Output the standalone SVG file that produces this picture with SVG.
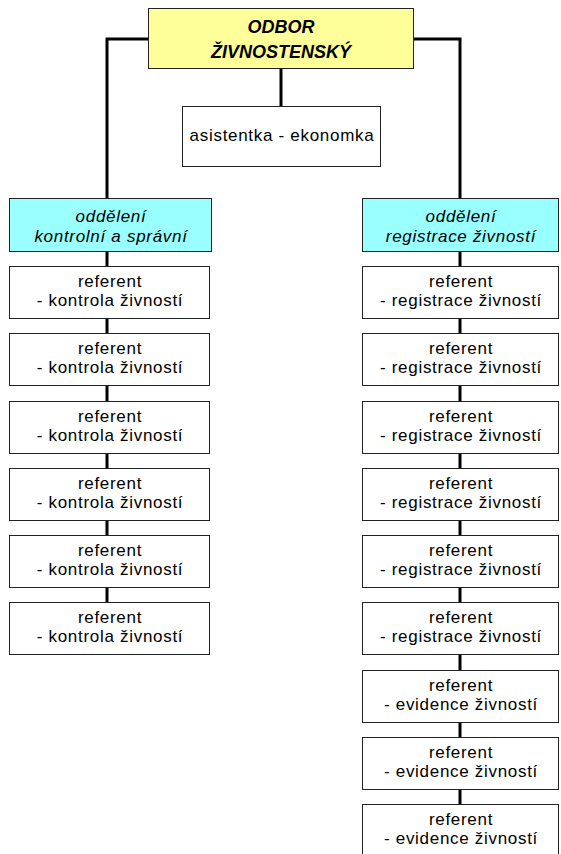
<svg xmlns="http://www.w3.org/2000/svg" width="561" height="854" viewBox="0 0 561 854">
<style>
.box{fill:#fff;stroke:#222;stroke-width:1}
.top{fill:#ffff99;stroke:#222;stroke-width:1}
.dept{fill:#99ffff;stroke:#222;stroke-width:1}
.t{font-family:"Liberation Sans",Arial,sans-serif;font-size:17px;letter-spacing:0.7px;fill:#000;text-anchor:middle}
.ti{font-family:"Liberation Sans",Arial,sans-serif;font-size:17px;font-style:italic;letter-spacing:0.7px;fill:#000;text-anchor:middle}
.title{font-family:"Liberation Sans",Arial,sans-serif;font-size:18px;font-weight:bold;font-style:italic;fill:#000;text-anchor:middle}
.c{fill:none;stroke:#000;stroke-width:3}
</style>
<rect width="561" height="854" fill="#fff"/>
<g id="connectors">
<polyline class="c" points="107,198 107,39 460,39 460,198"/>
<line class="c" x1="281" y1="68" x2="281" y2="106"/>
<line class="c" x1="107" y1="251" x2="107" y2="602"/>
<line class="c" x1="460" y1="251" x2="460" y2="804"/>
</g>
<g id="odbor">
<rect class="top" x="148.5" y="8.5" width="265" height="60"/>
<text class="title" x="281" y="33">ODBOR</text>
<text class="title" x="281" y="58">ŽIVNOSTENSKÝ</text>
</g>
<g id="asistentka">
<rect class="box" x="182.5" y="106.5" width="198" height="60"/>
<text class="t" x="282" y="141">asistentka - ekonomka</text>
</g>
<g id="dept-left">
<rect class="dept" x="9.5" y="198.5" width="202" height="53"/>
<text class="ti" x="111" y="222">oddělení</text>
<text class="ti" x="111" y="242">kontrolní a správní</text>
</g>
<g id="dept-right">
<rect class="dept" x="362.5" y="198.5" width="196" height="53"/>
<text class="ti" x="461" y="222">oddělení</text>
<text class="ti" x="461" y="242">registrace živností</text>
</g>
<g id="left-1"><rect class="box" x="9.5" y="266.5" width="200" height="52"/><text class="t" x="110" y="287">referent</text><text class="t" x="110" y="306">- kontrola živností</text></g>
<g id="left-2"><rect class="box" x="9.5" y="333.5" width="200" height="52"/><text class="t" x="110" y="354">referent</text><text class="t" x="110" y="373">- kontrola živností</text></g>
<g id="left-3"><rect class="box" x="9.5" y="401.5" width="200" height="52"/><text class="t" x="110" y="422">referent</text><text class="t" x="110" y="441">- kontrola živností</text></g>
<g id="left-4"><rect class="box" x="9.5" y="468.5" width="200" height="52"/><text class="t" x="110" y="489">referent</text><text class="t" x="110" y="508">- kontrola živností</text></g>
<g id="left-5"><rect class="box" x="9.5" y="535.5" width="200" height="52"/><text class="t" x="110" y="556">referent</text><text class="t" x="110" y="575">- kontrola živností</text></g>
<g id="left-6"><rect class="box" x="9.5" y="602.5" width="200" height="52"/><text class="t" x="110" y="623">referent</text><text class="t" x="110" y="642">- kontrola živností</text></g>
<g id="right-1"><rect class="box" x="362.5" y="266.5" width="196" height="52"/><text class="t" x="461" y="287">referent</text><text class="t" x="461" y="306">- registrace živností</text></g>
<g id="right-2"><rect class="box" x="362.5" y="333.5" width="196" height="52"/><text class="t" x="461" y="354">referent</text><text class="t" x="461" y="373">- registrace živností</text></g>
<g id="right-3"><rect class="box" x="362.5" y="401.5" width="196" height="52"/><text class="t" x="461" y="422">referent</text><text class="t" x="461" y="441">- registrace živností</text></g>
<g id="right-4"><rect class="box" x="362.5" y="468.5" width="196" height="52"/><text class="t" x="461" y="489">referent</text><text class="t" x="461" y="508">- registrace živností</text></g>
<g id="right-5"><rect class="box" x="362.5" y="535.5" width="196" height="52"/><text class="t" x="461" y="556">referent</text><text class="t" x="461" y="575">- registrace živností</text></g>
<g id="right-6"><rect class="box" x="362.5" y="602.5" width="196" height="52"/><text class="t" x="461" y="623">referent</text><text class="t" x="461" y="642">- registrace živností</text></g>
<g id="right-7"><rect class="box" x="362.5" y="670.5" width="196" height="52"/><text class="t" x="461" y="691">referent</text><text class="t" x="461" y="710">- evidence živností</text></g>
<g id="right-8"><rect class="box" x="362.5" y="737.5" width="196" height="52"/><text class="t" x="461" y="758">referent</text><text class="t" x="461" y="777">- evidence živností</text></g>
<g id="right-9"><rect class="box" x="362.5" y="804.5" width="196" height="60"/><text class="t" x="461" y="825">referent</text><text class="t" x="461" y="844">- evidence živností</text></g>
</svg>
